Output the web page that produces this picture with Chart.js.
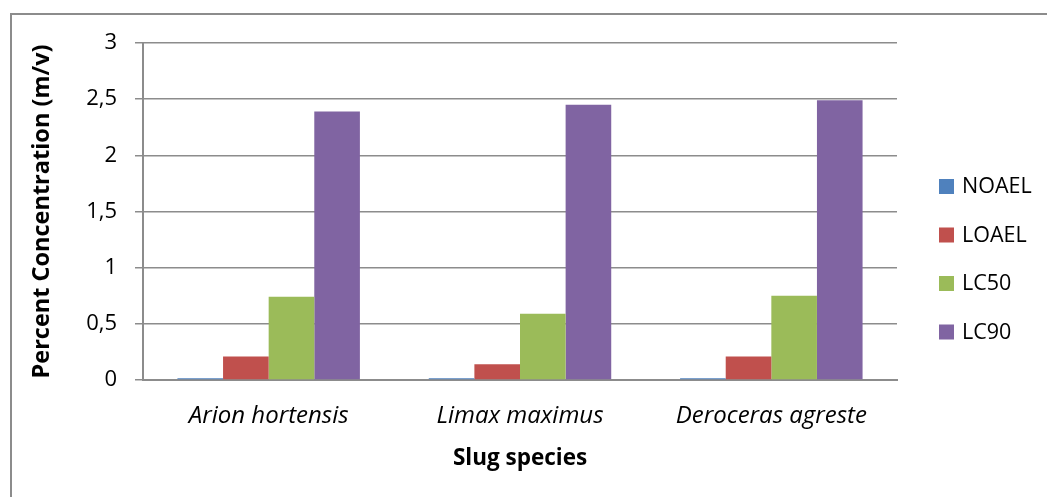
<!DOCTYPE html>
<html>
<head>
<meta charset="utf-8">
<script src="https://cdn.jsdelivr.net/npm/chart.js@4.4.1/dist/chart.umd.min.js"></script>
<style>
  html, body { margin: 0; padding: 0; background: #fff; overflow: hidden; }
  #wrap { position: relative; width: 1047px; height: 497px; }
  #frame { position: absolute; left: 10px; top: 13px; width: 1100px; height: 560px;
           border: 2px solid #8c8c8c; box-sizing: border-box; pointer-events: none; }
  canvas { position: absolute; left: 0; top: 0; }
</style>
</head>
<body>
<div id="wrap">
  <canvas id="c" width="1047" height="497"></canvas>
  <div id="frame"></div>
</div>
<script>
// Slug species and toxicity endpoints (percent concentration, m/v)
const species = ['Arion hortensis', 'Limax maximus', 'Deroceras agreste'];
const noael = [0.015, 0.015, 0.015];
const loael = [0.21, 0.14, 0.21];
const lc50  = [0.74, 0.59, 0.75];
const lc90  = [2.39, 2.45, 2.49];
const yTicks = [0, 0.5, 1, 1.5, 2, 2.5, 3];

const FONT = "'Open Sans', Lato, sans-serif";

const fmt = v => String(v).replace('.', ',');

// Legend drawn to the right of the plot, one square swatch per series
const sideLegend = {
  id: 'sideLegend',
  afterDraw(chart) {
    const ctx = chart.ctx;
    const area = chart.chartArea;
    const x0 = area.right + 42;
    const y0 = area.top + 143;
    const step = 48.5;
    ctx.save();
    ctx.font = '21.5px ' + FONT;
    ctx.textBaseline = 'middle';
    ctx.textAlign = 'left';
    chart.data.datasets.forEach((ds, i) => {
      const cy = y0 + i * step;
      ctx.fillStyle = ds.backgroundColor;
      ctx.fillRect(x0, cy - 7, 15, 15);
      ctx.fillStyle = '#000';
      ctx.fillText(ds.label, x0 + 23, cy + 1);
    });
    ctx.restore();
  }
};

new Chart(document.getElementById('c'), {
  type: 'bar',
  data: {
    labels: species,
    datasets: [
      { label: 'NOAEL', data: noael, backgroundColor: '#4F81BD' },
      { label: 'LOAEL', data: loael, backgroundColor: '#C0504D' },
      { label: 'LC50',  data: lc50,  backgroundColor: '#9BBB59' },
      { label: 'LC90',  data: lc90,  backgroundColor: '#8064A2' }
    ]
  },
  options: {
    responsive: false,
    animation: false,
    devicePixelRatio: 1,
    layout: { padding: { top: 43, right: 150, left: 0, bottom: 0 } },
    datasets: { bar: { categoryPercentage: 0.726, barPercentage: 1.0, borderWidth: 0 } },
    plugins: { legend: { display: false }, tooltip: { enabled: false } },
    scales: {
      x: {
        afterFit(scale) { scale.height = 117; },
        grid: { display: false, drawTicks: false },
        border: { display: true, color: '#8c8c8c', width: 2 },
        ticks: { color: '#000', font: { family: FONT, size: 24, style: 'italic' }, padding: 22 },
        title: { display: true, text: 'Slug species', color: '#000',
                 font: { family: FONT, size: 22.5, weight: 'bold' }, padding: { top: 0, bottom: 25 } }
      },
      y: {
        min: 0, max: 3,
        afterFit(scale) { scale.width = 143; },
        afterBuildTicks(scale) { scale.ticks = yTicks.map(v => ({ value: v })); },
        grid: { color: '#8c8c8c', lineWidth: 1.5, tickLength: 8, drawTicks: true },
        border: { display: true, color: '#8c8c8c', width: 2 },
        ticks: { color: '#000', font: { family: FONT, size: 22 }, padding: 18,
                 callback: v => fmt(v) },
        title: { display: true, text: 'Percent Concentration (m/v)', color: '#000',
                 font: { family: FONT, size: 23.5, weight: 'bold' }, padding: { top: 28, bottom: 0 } }
      }
    }
  },
  plugins: [sideLegend]
});
</script>
</body>
</html>
